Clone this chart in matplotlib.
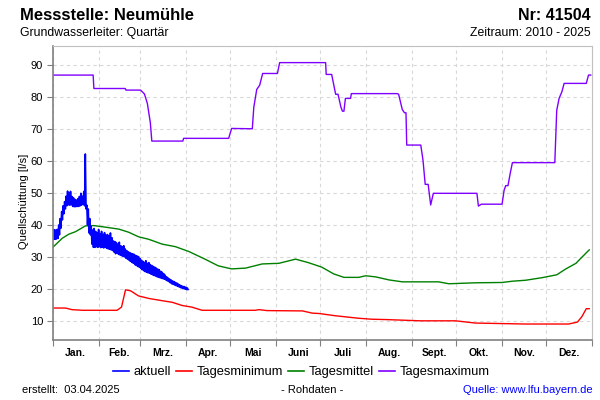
import matplotlib
matplotlib.use("Agg")
import matplotlib.pyplot as plt
from matplotlib.ticker import FixedLocator, NullFormatter

plt.rcParams["font.family"] = ["Liberation Sans", "DejaVu Sans"]

# Monatsgrenzen (Tag im Jahr) und Beschriftungen
monat_start = [0, 31, 59, 90, 120, 151, 181, 212, 243, 273, 304, 334, 365]
monat_namen = ["Jan.", "Feb.", "Mrz.", "Apr.", "Mai", "Juni", "Juli",
               "Aug.", "Sept.", "Okt.", "Nov.", "Dez."]

# aktuell: obere und untere Huellkurve der Rohdaten je Tag
aktuell_tag = list(range(0, 92))
aktuell_hoch = [38.6, 38.5, 38.4, 38.6, 40.0, 42.0, 44.2, 46.0, 47.3, 49.0,
                50.6, 50.0, 50.5, 48.9, 48.5, 48.0, 47.8, 48.2, 48.9, 49.9,
                49.0, 50.5, 62.2, 46.2, 45.0, 42.0, 39.5, 38.4, 38.9, 38.0,
                37.5, 38.6, 37.2, 38.0, 37.0, 37.6, 36.8, 37.0, 36.5, 37.5,
                36.0, 35.0, 34.8, 34.5, 34.0, 34.6, 33.5, 33.2, 33.5, 32.5,
                32.0, 31.6, 31.4, 31.1, 31.0, 30.8, 30.5, 30.3, 30.1, 29.5,
                29.0, 28.6, 28.3, 28.8, 28.0, 28.2, 27.6, 27.3, 27.0, 26.8,
                26.5, 26.2, 26.0, 25.5, 25.2, 24.8, 24.3, 23.8, 23.4, 23.1,
                22.8, 22.5, 22.3, 22.0, 21.8, 21.5, 21.2, 21.0, 20.8, 20.7,
                20.5, 20.3]
aktuell_tief = [35.5, 35.5, 35.6, 35.8, 36.9, 39.0, 41.6, 43.5, 45.0, 46.0,
                46.3, 46.2, 46.3, 45.8, 45.7, 45.7, 45.8, 45.8, 46.0, 46.2,
                46.5, 46.0, 45.0, 40.0, 37.5, 36.9, 34.0, 33.0, 33.0, 33.2,
                33.0, 33.2, 32.9, 33.0, 32.8, 33.0, 32.7, 32.5, 32.4, 32.2,
                32.0, 31.5, 31.0, 31.2, 30.8, 30.6, 30.4, 30.2, 30.0, 29.6,
                29.3, 29.0, 28.6, 28.3, 28.0, 27.6, 27.3, 27.0, 26.8, 26.4,
                26.0, 25.7, 25.4, 25.2, 25.0, 24.9, 24.6, 24.4, 24.2, 24.0,
                23.8, 23.6, 23.5, 23.3, 23.2, 23.0, 22.8, 22.5, 22.3, 21.9,
                21.6, 21.4, 21.2, 21.0, 20.8, 20.6, 20.4, 20.2, 20.1, 19.9,
                19.8, 19.8]

minimum_tag = [0, 8.6, 13, 20, 43.5, 46.5, 49.2, 52.6, 58, 65, 74, 80.8, 87.5,
               94, 101, 137, 139.5, 145, 169, 175.6, 180, 191, 207, 216, 225,
               249, 272.6, 286, 320, 349, 355, 358, 361, 363]
minimum_wert = [14, 14, 13.5, 13.3, 13.3, 14.3, 19.7, 19.4, 17.8, 17, 16.3,
                15.8, 14.8, 14.3, 13.3, 13.3, 13.5, 13.2, 13.1, 12.4, 12.3,
                11.6, 10.8, 10.5, 10.4, 10, 10, 9.3, 9, 9, 9.6, 11.3, 13.8, 13.8]

mittel_tag = [0, 6.3, 10.8, 15.4, 22, 27.8, 35.7, 44.7, 51.5, 58, 65, 74, 83,
              92, 103, 112, 121, 130.5, 141.7, 153, 164.3, 173, 182, 190, 197,
              207, 211.7, 218.5, 227.5, 236.5, 261, 268, 286, 304, 311, 320,
              331, 341, 347, 354, 358, 363]
mittel_wert = [33, 35.8, 37.1, 37.9, 39.7, 39.8, 39.3, 38.7, 37.7, 36.3, 35.5,
               34, 33.2, 31.7, 29.3, 27.2, 26.25, 26.5, 27.8, 28, 29.3, 28.2,
               26.8, 24.7, 23.6, 23.6, 24.1, 23.75, 22.8, 22.2, 22.2, 21.6,
               21.9, 22, 22.4, 22.7, 23.5, 24.4, 26.2, 28, 29.9, 32.2]

maximum_tag = [0, 27.3, 27.8, 49, 49.5, 59.4, 62, 64, 66, 67, 88, 88.5, 119,
               121, 135, 136, 138, 140, 142, 152, 153.5, 184.6, 185, 188.7,
               191.4, 193, 195, 196, 197, 198, 201.5, 202, 233, 234, 236.5,
               238, 239, 239.5, 249, 250.5, 252, 254, 255.7, 257.5, 287, 288,
               290, 304, 305.4, 306.5, 308, 309.5, 311, 339.7, 341, 342.6,
               344.5, 346, 361, 362.5, 364]
maximum_wert = [86.9, 86.9, 82.7, 82.7, 82.2, 82.2, 81, 78, 72, 66.25, 66.25,
                67.1, 67.1, 70.2, 70.1, 76.8, 82.4, 83.75, 87.4, 87.4, 90.8,
                90.8, 87.1, 87.1, 80.9, 80.9, 76.8, 75.6, 75.6, 79.6, 79.6,
                81.1, 81.1, 80.9, 76.1, 75.1, 75.1, 65, 65, 60.3, 52.7, 52.7,
                46.25, 49.9, 49.9, 45.9, 46.5, 46.5, 50.9, 52.3, 52.3, 56.1,
                59.5, 59.5, 75.9, 79.6, 81.7, 84.3, 84.3, 86.9, 86.9]

# Rohdaten als Zickzack zwischen oberer und unterer Huellkurve
zz_x, zz_y = [], []
for t, hi, lo in zip(aktuell_tag, aktuell_hoch, aktuell_tief):
    zz_x += [t, t + 0.5]
    zz_y += [hi, lo]

fig = plt.figure(figsize=(6, 4), dpi=100)
ax = fig.add_axes([0.088, 0.15, 0.899, 0.735])

ax.plot(minimum_tag, minimum_wert, color="#ff0000", lw=1.0)
ax.plot(mittel_tag, mittel_wert, color="#008000", lw=1.0)
ax.plot(maximum_tag, maximum_wert, color="#8000ff", lw=1.0)
ax.plot(zz_x, zz_y, color="#0000ff", lw=1.2)

ax.set_xlim(0, 365)
ax.set_ylim(4, 96)
ax.set_yticks(range(10, 100, 10))
ax.xaxis.set_major_locator(FixedLocator(monat_start))
ax.xaxis.set_major_formatter(NullFormatter())
mitte = [(a + b) / 2 for a, b in zip(monat_start[:-1], monat_start[1:])]
ax.xaxis.set_minor_locator(FixedLocator(mitte))
ax.set_xticklabels(monat_namen, minor=True)
ax.tick_params(axis="x", which="minor", length=0, pad=6, labelsize=7.5)
for lab in ax.get_xticklabels(minor=True):
    lab.set_fontweight("bold")
ax.tick_params(axis="x", which="major", length=4, color="#808080")
ax.tick_params(axis="y", length=4, color="#808080", labelsize=8, pad=3)

ax.grid(True, which="major", color="#d8d8d8", linestyle=(0, (3, 3)), lw=0.8)
for s in ["left", "bottom"]:
    ax.spines[s].set_color("#808080")
    ax.spines[s].set_linewidth(1.2)
for s in ["top", "right"]:
    ax.spines[s].set_color("#c0c0c0")
ax.set_ylabel("Quellschüttung [l/s]", fontsize=8)
ax.yaxis.set_label_coords(-0.045, 0.47)

fig.text(0.033, 0.962, "Messstelle: Neumühle", fontsize=12,
         fontweight="bold", va="center")
fig.text(0.033, 0.917, "Grundwasserleiter: Quartär", fontsize=8.8,
         va="center")
fig.text(0.985, 0.962, "Nr: 41504", fontsize=11.5, fontweight="bold",
         va="center", ha="right")
fig.text(0.985, 0.917, "Zeitraum: 2010 - 2025", fontsize=8.8, va="center",
         ha="right")

handles = [plt.Line2D([], [], color=c, lw=1.2)
           for c in ["#0000ff", "#ff0000", "#008000", "#8000ff"]]
fig.legend(handles, ["aktuell", "Tagesminimum", "Tagesmittel", "Tagesmaximum"],
           loc="center", bbox_to_anchor=(0.502, 0.07), ncol=4, frameon=False,
           fontsize=9.3, handlelength=1.2, handletextpad=0.35,
           columnspacing=0.45)

fig.text(0.037, 0.025, "erstellt:  03.04.2025", fontsize=8, va="center")
fig.text(0.52, 0.025, "- Rohdaten -", fontsize=8, va="center", ha="center")
fig.text(0.987, 0.025, "Quelle: www.lfu.bayern.de", fontsize=8, va="center",
         ha="right", color="#0000ff")

fig.savefig("out.png", dpi=100)
